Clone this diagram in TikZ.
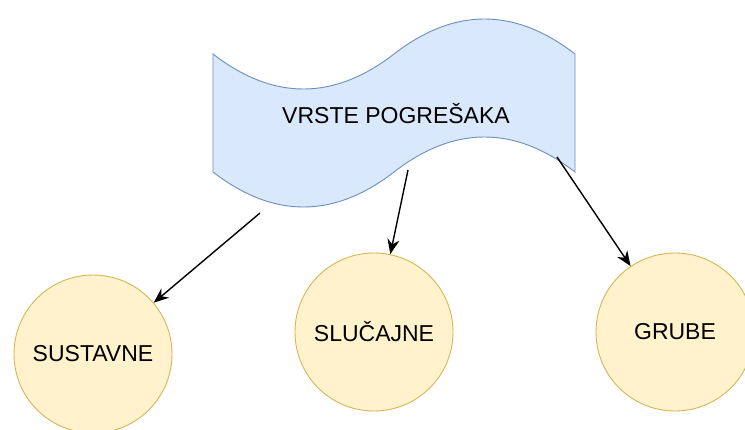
\documentclass[tikz,border=0pt]{standalone}
\usepackage{fontspec}
\setmainfont{Liberation Sans}
\usetikzlibrary{arrows.meta}
\definecolor{tapefill}{HTML}{DAE8FC}
\definecolor{tapeline}{HTML}{6C8EBF}
\definecolor{circfill}{HTML}{FFF2CC}
\definecolor{circline}{HTML}{D6B656}
\tikzset{
  lbl/.style={font=\fontsize{23}{26}\selectfont},
  circnode/.style={circle, draw=circline, fill=circfill, line width=0.9pt, minimum size=158pt, inner sep=0pt, lbl},
  arr/.style={-{Stealth[length=15pt,width=12pt]}, line width=1.4pt, black},
}
\begin{document}
\begin{tikzpicture}[x=1pt,y=-1pt]
\useasboundingbox (0,0) rectangle (745,429);
\fill[white] (0,0) rectangle (745,429);
\draw[tapeline, fill=tapefill, line width=0.9pt]
  (213,54) .. controls (273.33,100.67) and (333.67,100.67) .. (394,54)
  .. controls (454.33,7.33) and (514.67,7.33) .. (575,54)
  -- (575,172)
  .. controls (514.67,125.33) and (454.33,125.33) .. (394,172)
  .. controls (333.67,218.67) and (273.33,218.67) .. (213,172)
  -- cycle;
\node[lbl] (tape) at (396,114) {VRSTE POGREŠAKA};
\coordinate (t1) at (260,213);
\coordinate (t2) at (408,170);
\coordinate (t3) at (557,157);
\node[circnode] (sus) at (93,354) {SUSTAVNE};
\node[circnode] (slu) at (374,332) {SLUČAJNE};
\node[circnode] (gru) at (675,332) {GRUBE};
\draw[arr] (t1) -- (sus);
\draw[arr] (t2) -- (slu);
\draw[arr] (t3) -- (gru);
\end{tikzpicture}
\end{document}
